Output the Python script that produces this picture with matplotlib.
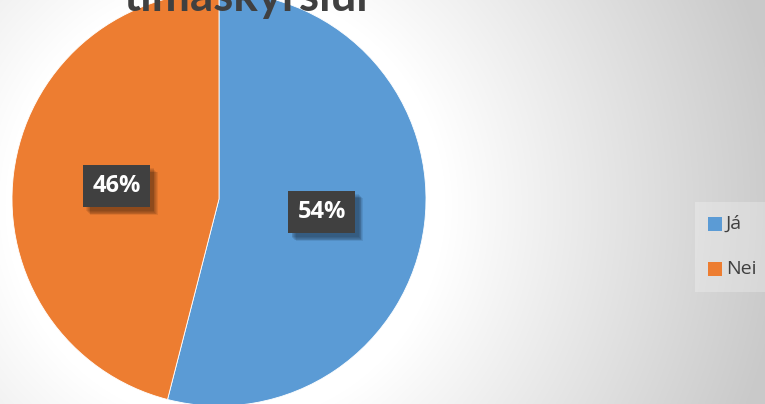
import numpy as np
import matplotlib
matplotlib.use("Agg")
import matplotlib.pyplot as plt
import matplotlib.patheffects as pe
from matplotlib.patches import Rectangle

labels = ["Já", "Nei"]
values = [54, 46]
colors = ["#5B9BD5", "#ED7D31"]
title = "tímaskýrslur"

W, H = 765, 404
fig = plt.figure(figsize=(W / 100, H / 100), dpi=100)

# radial gradient background
bg = fig.add_axes([0, 0, 1, 1])
yy, xx = np.mgrid[0:H, 0:W]
d = np.hypot(xx - 225, (yy - 205) * 1.0)
t = np.clip((d - 220) / 340, 0, 1)
g = 1.0 - 0.21 * t
img = np.dstack([g, g, g])
bg.imshow(img, extent=[0, W, H, 0], aspect="auto")
bg.set_xlim(0, W)
bg.set_ylim(H, 0)
bg.axis("off")

# pie axes: center (219,199) px, radius 207 px
cx, cy, r = 219, 199, 207
ax = fig.add_axes([(cx - r) / W, (H - cy - r) / H, 2 * r / W, 2 * r / H])
wedges, texts, autotexts = ax.pie(
    values, colors=colors, startangle=90, counterclock=False,
    autopct=lambda p: f"{p:.0f}%", pctdistance=0.5,
    wedgeprops=dict(linewidth=0.6, edgecolor="white"),
    textprops=dict(color="white", fontsize=17, fontweight="bold", family="Open Sans"),
)
ax.set_xlim(-1, 1)
ax.set_ylim(-1, 1)
ax.set_aspect("auto")
ax.axis("off")
shadow = []
for k in range(1, 7):
    shadow.append(pe.SimplePatchShadow(offset=(2 + k * 0.6, -2 - k * 0.6),
                                       shadow_rgbFace="#000000", alpha=0.08))
for at in autotexts:
    at.set_bbox(dict(boxstyle="square,pad=0.4", facecolor="#404040", edgecolor="none"))
    at.get_bbox_patch().set_path_effects(shadow + [pe.Normal()])

# title (cut off at top, as in the reference)
fig.text(248 / W, 1 - 11 / H, title, ha="center", va="baseline",
         fontsize=33, fontweight="bold", color="#404040", family="Lato")

# legend box
bg.add_patch(Rectangle((695, 202), 75, 90, facecolor="white", alpha=0.25, edgecolor="none"))
for i, (lab, col) in enumerate(zip(labels, colors)):
    y = 224 + i * 45
    bg.add_patch(Rectangle((708, y - 7), 14, 14, facecolor=col, edgecolor="none"))
    bg.text(726, y, lab, ha="left", va="center", fontsize=14, color="#404040", family="Open Sans")

fig.savefig("out.png", dpi=100)
